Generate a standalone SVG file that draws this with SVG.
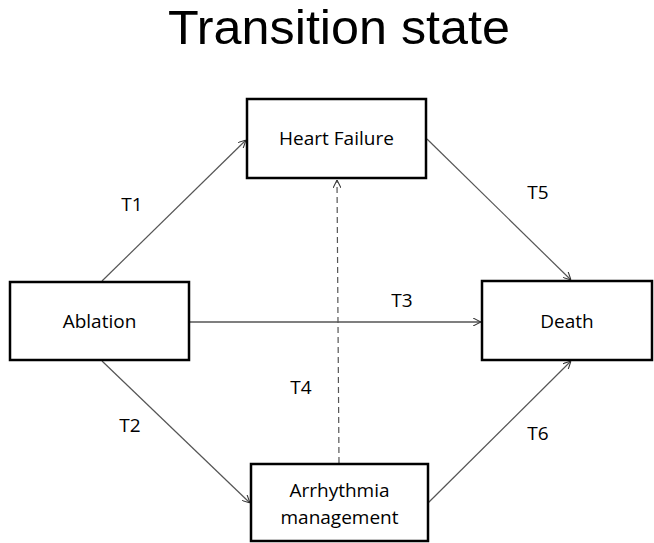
<svg xmlns="http://www.w3.org/2000/svg" width="654" height="543" viewBox="0 0 654 543">
<style>
.box{fill:#fff;stroke:#000;stroke-width:2.5}
.lbl{font-family:"Open Sans","Liberation Sans",sans-serif;font-size:19px;fill:#000;text-anchor:middle}
.title{font-family:"Liberation Sans","Open Sans",sans-serif;font-size:48px;fill:#000;text-anchor:middle}
.con{fill:none;stroke:#555;stroke-width:1.2;marker-end:url(#arr)}
</style>
<defs>
<marker id="arr" viewBox="0 0 10 10" refX="10" refY="5" markerWidth="8" markerHeight="8" markerUnits="userSpaceOnUse" orient="auto">
<path d="M0,0 L10,5 L0,10" fill="none" stroke="#333" stroke-width="1.3"/>
</marker>
</defs>
<rect width="654" height="543" fill="#fff"/>
<text class="title" x="339" y="44" textLength="342" lengthAdjust="spacingAndGlyphs">Transition state</text>
<g id="connectors">
<line class="con" x1="102" y1="281" x2="246" y2="140"/>
<line class="con" x1="102" y1="361" x2="250" y2="503"/>
<line class="con" x1="427" y1="139" x2="571" y2="280"/>
<line class="con" x1="428" y1="503" x2="571" y2="361"/>
<line class="con" style="stroke:#000" x1="190" y1="322" x2="481" y2="322"/>
<line class="con" style="stroke-dasharray:6,4" x1="339" y1="463" x2="337" y2="180"/>
<text class="lbl" x="132" y="211">T1</text>
<text class="lbl" x="130" y="432">T2</text>
<text class="lbl" x="402" y="307">T3</text>
<text class="lbl" x="301" y="394">T4</text>
<text class="lbl" x="538" y="199">T5</text>
<text class="lbl" x="538" y="440">T6</text>
</g>
<g id="heart-failure">
<rect class="box" x="247" y="99" width="179" height="79"/>
<text class="lbl" x="336.5" y="145">Heart Failure</text>
</g>
<g id="ablation">
<rect class="box" x="10" y="282" width="179" height="78"/>
<text class="lbl" x="99.5" y="328">Ablation</text>
</g>
<g id="death">
<rect class="box" x="482" y="281" width="170" height="79"/>
<text class="lbl" x="567" y="328">Death</text>
</g>
<g id="arrhythmia">
<rect class="box" x="251" y="464" width="177" height="77"/>
<text class="lbl" x="339.5" y="497">Arrhythmia</text>
<text class="lbl" x="339.5" y="524">management</text>
</g>
</svg>
